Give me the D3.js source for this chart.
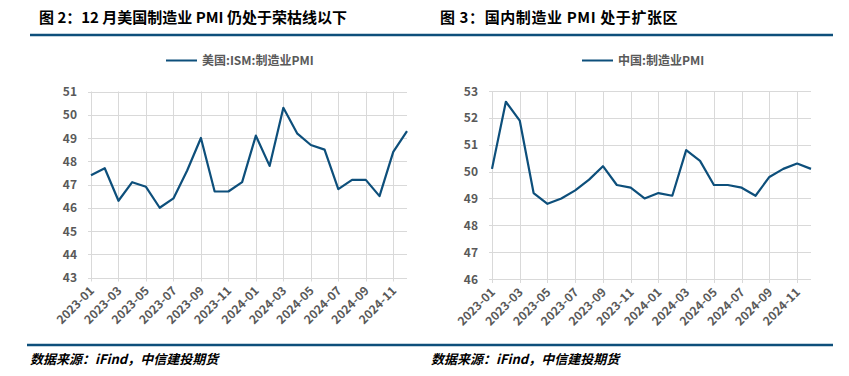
<!DOCTYPE html>
<html>
<head>
<meta charset="utf-8">
<script src="https://cdn.jsdelivr.net/npm/d3@7"></script>
<style>
  body { margin: 0; background: #fff; }
  svg text { font-family: "Noto Sans CJK SC", "Noto Sans", sans-serif; }
</style>
</head>
<body>
<svg id="chart" width="849" height="376"></svg>
<script>
var months = ["2023-01","2023-02","2023-03","2023-04","2023-05","2023-06","2023-07","2023-08","2023-09","2023-10","2023-11","2023-12",
              "2024-01","2024-02","2024-03","2024-04","2024-05","2024-06","2024-07","2024-08","2024-09","2024-10","2024-11","2024-12"];
var usIsm = [47.4, 47.7, 46.3, 47.1, 46.9, 46.0, 46.4, 47.6, 49.0, 46.7, 46.7, 47.1,
             49.1, 47.8, 50.3, 49.2, 48.7, 48.5, 46.8, 47.2, 47.2, 46.5, 48.4, 49.3];
var cnPmi = [50.1, 52.6, 51.9, 49.2, 48.8, 49.0, 49.3, 49.7, 50.2, 49.5, 49.4, 49.0,
             49.2, 49.1, 50.8, 50.4, 49.5, 49.5, 49.4, 49.1, 49.8, 50.1, 50.3, 50.1];
var usTicks = [43, 44, 45, 46, 47, 48, 49, 50, 51];
var cnTicks = [46, 47, 48, 49, 50, 51, 52, 53];
var xTickLabels = ["2023-01","2023-03","2023-05","2023-07","2023-09","2023-11","2024-01","2024-03","2024-05","2024-07","2024-09","2024-11"];

var titles = ["图 2：12 月美国制造业 PMI 仍处于荣枯线以下", "图 3：国内制造业 PMI 处于扩张区"];
var legendNames = ["美国:ISM:制造业PMI", "中国:制造业PMI"];
var source = "数据来源：iFind，中信建投期货";

var blue = "#0d4f7b", grid = "#d9d9d9", gray = "#595959";
var svg = d3.select("#chart");

// header and footer rules
svg.append("line").attr("x1", 30).attr("x2", 833).attr("y1", 35).attr("y2", 35)
    .attr("stroke", blue).attr("stroke-width", 2.5);
svg.append("line").attr("x1", 27).attr("x2", 833).attr("y1", 345).attr("y2", 345)
    .attr("stroke", blue).attr("stroke-width", 2.5);

function drawPanel(cfg) {
    var g = svg.append("g");

    g.append("text").attr("x", cfg.titleX).attr("y", 23)
        .attr("font-size", 15).attr("font-weight", "bold").attr("fill", "#000")
        .attr("letter-spacing", cfg.titleSpacing)
        .text(cfg.title);

    g.append("text").attr("x", cfg.titleX - 9).attr("y", 364)
        .attr("font-size", 13).attr("font-style", "italic").attr("font-weight", "bold").attr("fill", "#000")
        .text(source);

    // legend
    g.append("line").attr("x1", cfg.legendX).attr("x2", cfg.legendX + 31)
        .attr("y1", 60.5).attr("y2", 60.5).attr("stroke", blue).attr("stroke-width", 2);
    g.append("text").attr("x", cfg.legendX + 36).attr("y", 65)
        .attr("font-size", 12).attr("font-weight", "bold").attr("fill", gray)
        .text(cfg.legend);

    var x = d3.scaleLinear().domain([0, months.length - 1]).range([cfg.left, cfg.right]);
    var y = d3.scaleLinear().domain(d3.extent(cfg.ticks)).range([cfg.bottom, cfg.top]);

    // horizontal gridlines
    g.selectAll(".hgrid").data(cfg.ticks).enter().append("line")
        .attr("x1", cfg.left - 3).attr("x2", cfg.right)
        .attr("y1", function(d) { return Math.round(y(d)) + 0.5; })
        .attr("y2", function(d) { return Math.round(y(d)) + 0.5; })
        .attr("stroke", grid).attr("stroke-width", 1);

    // vertical gridlines at labelled months
    g.selectAll(".vgrid").data(xTickLabels).enter().append("line")
        .attr("x1", function(d) { return Math.round(x(months.indexOf(d))) + 0.5; })
        .attr("x2", function(d) { return Math.round(x(months.indexOf(d))) + 0.5; })
        .attr("y1", cfg.top).attr("y2", cfg.bottom + 4)
        .attr("stroke", grid).attr("stroke-width", 1);

    // y labels
    g.selectAll(".ylab").data(cfg.ticks).enter().append("text")
        .attr("x", cfg.left - 14)
        .attr("y", function(d) { return y(d) + 4.5; })
        .attr("text-anchor", "end").attr("font-size", 12).attr("font-weight", "bold")
        .attr("fill", gray).text(function(d) { return d; });

    // x labels, rotated
    g.selectAll(".xlab").data(xTickLabels).enter().append("text")
        .attr("transform", function(d) {
            return "translate(" + (x(months.indexOf(d)) + 1) + "," + (cfg.bottom + 11) + ") rotate(-45)";
        })
        .attr("text-anchor", "end").attr("font-size", 12).attr("font-weight", "bold")
        .attr("fill", gray).attr("dy", "0.35em").text(function(d) { return d; });

    var line = d3.line()
        .x(function(d, i) { return x(i); })
        .y(function(d) { return y(d); });

    g.append("path").datum(cfg.values)
        .attr("d", line).attr("fill", "none")
        .attr("stroke", blue).attr("stroke-width", 2.2).attr("stroke-linejoin", "round");
}

drawPanel({
    title: titles[0], titleX: 39, titleSpacing: 0, legend: legendNames[0], legendX: 166,
    values: usIsm, ticks: usTicks,
    left: 91, right: 407, top: 91.5, bottom: 277.5
});

drawPanel({
    title: titles[1], titleX: 440, titleSpacing: 0.6, legend: legendNames[1], legendX: 582,
    values: cnPmi, ticks: cnTicks,
    left: 492, right: 811, top: 91, bottom: 279
});
</script>
</body>
</html>
